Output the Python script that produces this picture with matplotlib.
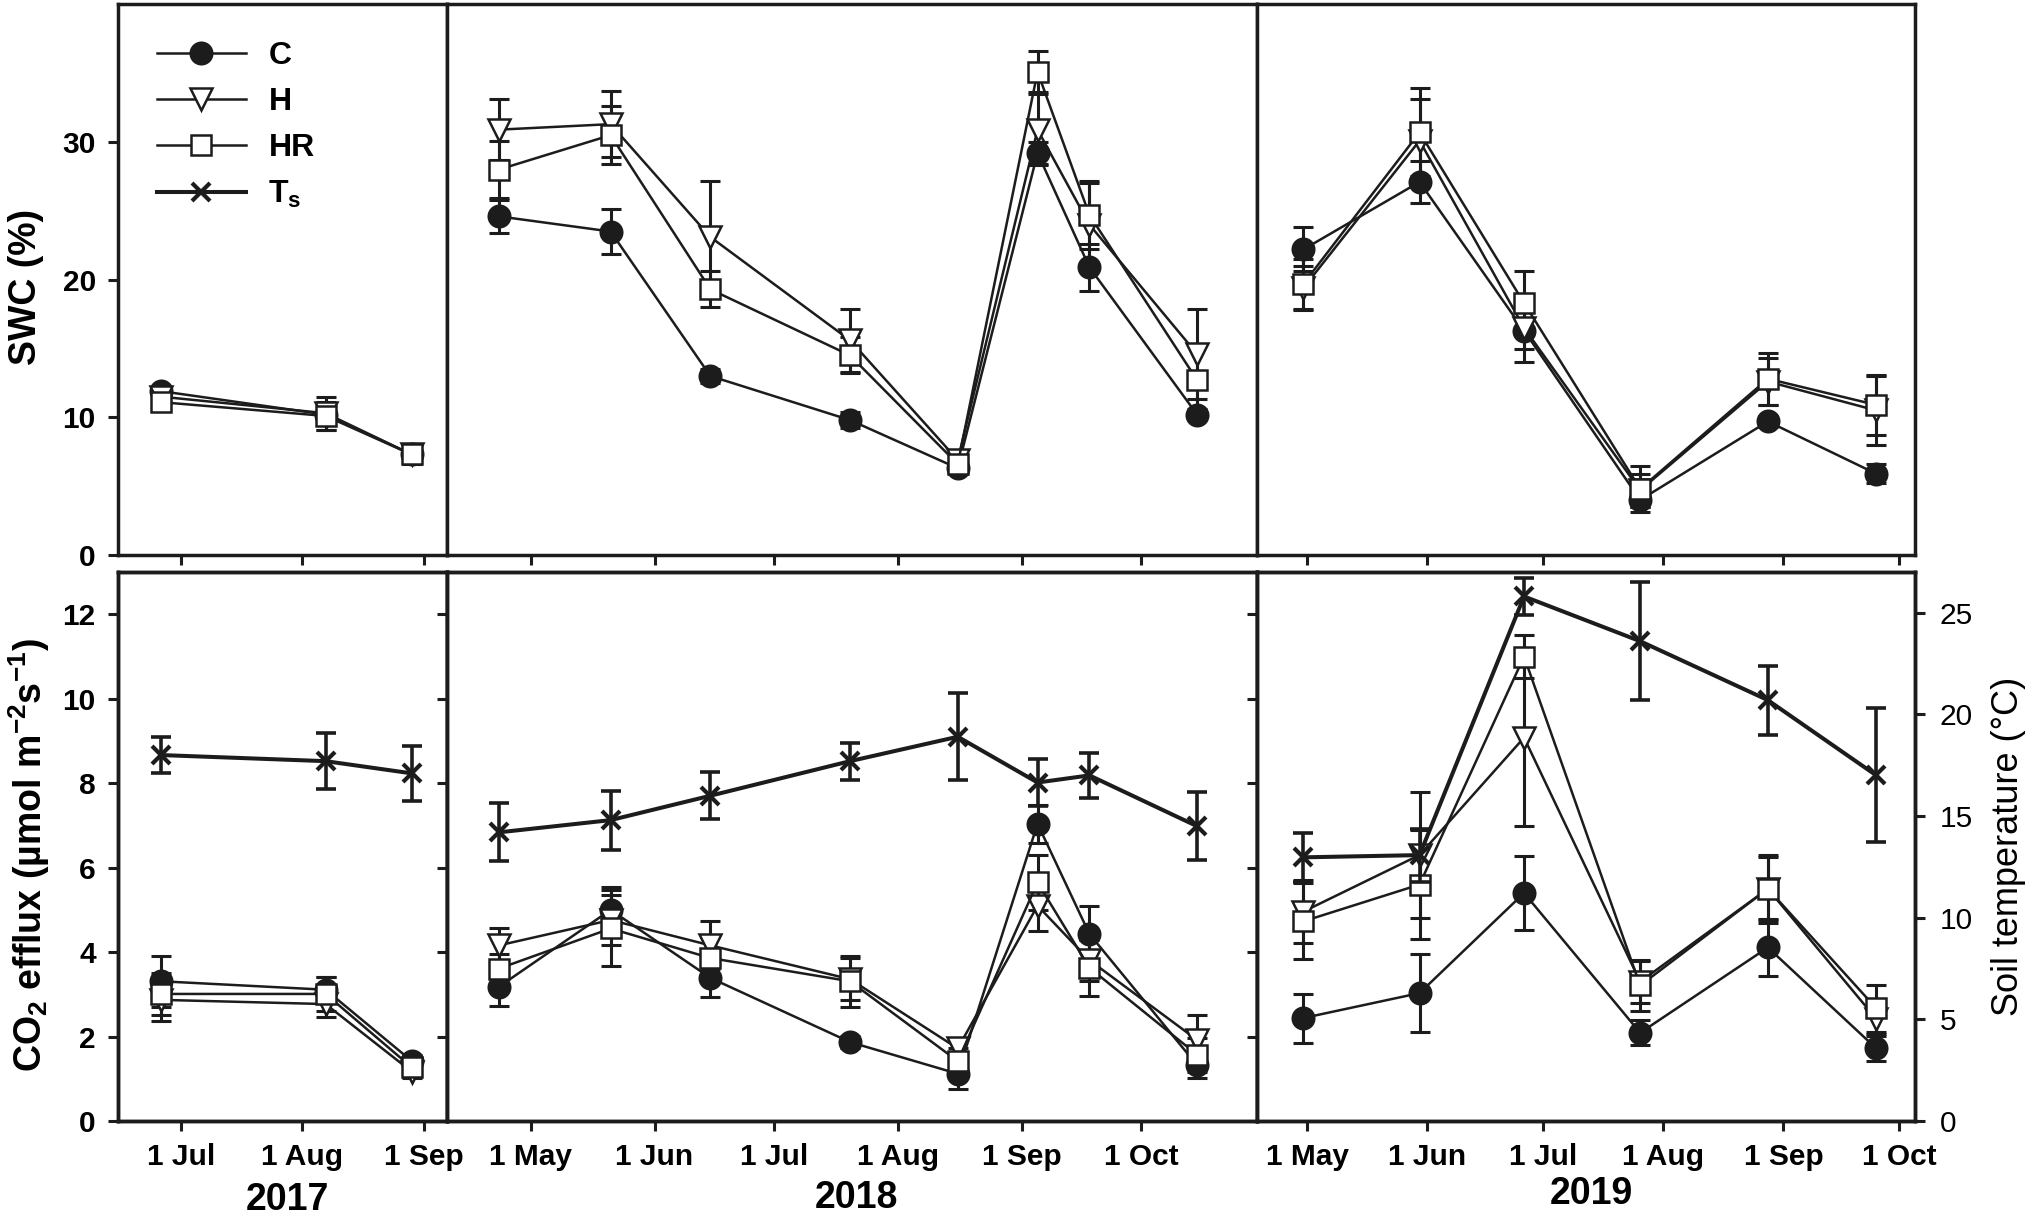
import numpy as np
import pandas as pd
import matplotlib
matplotlib.use('Agg')
import matplotlib.pyplot as plt
import matplotlib.dates as mdates
from matplotlib.lines import Line2D
from matplotlib.ticker import FuncFormatter, MultipleLocator

plt.rcParams['font.family'] = ['Liberation Sans', 'DejaVu Sans']
plt.rcParams['mathtext.fontset'] = 'custom'
plt.rcParams['mathtext.rm'] = 'Liberation Sans'
plt.rcParams['mathtext.bf'] = 'Liberation Sans:bold'
plt.rcParams['mathtext.default'] = 'regular'

# sampling dates (2017, 2018, 2019)
dates = pd.to_datetime(['2017-06-26', '2017-08-07', '2017-08-29',
                        '2018-04-23', '2018-05-21', '2018-06-15', '2018-07-20',
                        '2018-08-16', '2018-09-05', '2018-09-18', '2018-10-15',
                        '2019-04-30', '2019-05-30', '2019-06-26', '2019-07-26',
                        '2019-08-28', '2019-09-25'])

# soil water content (%)
swc_c = [11.9, 10.2, 7.3, 24.6, 23.5, 13.0, 9.8, 6.3, 29.2, 20.9, 10.2,
         22.2, 27.1, 16.3, 4.0, 9.7, 5.9]
swc_c_err = [0.4, 0.5, 0.5, 1.2, 1.6, 0.5, 0.6, 0.4, 0.8, 1.7, 0.4,
             1.6, 1.5, 2.3, 0.5, 0.4, 0.7]
swc_h = [11.5, 10.3, 7.3, 30.9, 31.3, 23.1, 15.6, 6.9, 30.9, 24.0, 14.6,
         19.4, 30.1, 16.5, 4.7, 12.6, 10.5]
swc_h_err = [0.4, 1.2, 0.6, 2.2, 2.4, 4.1, 2.3, 0.5, 2.6, 3.0, 3.3,
             1.6, 3.0, 1.5, 1.2, 1.7, 2.5]
swc_hr = [11.1, 10.1, 7.3, 28.0, 30.5, 19.3, 14.5, 6.6, 35.1, 24.7, 12.7,
          19.7, 30.7, 18.3, 4.8, 12.8, 10.9]
swc_hr_err = [0.4, 1.0, 0.7, 2.1, 2.1, 1.3, 1.3, 0.4, 1.5, 2.5, 2.6,
              1.8, 3.2, 2.3, 1.7, 1.9, 2.2]

# CO2 efflux (umol m-2 s-1)
co2_c = [3.31, 3.11, 1.42, 3.18, 5.0, 3.39, 1.87, 1.12, 7.04, 4.43, 1.32,
         2.44, 3.03, 5.4, 2.09, 4.11, 1.72]
co2_c_err = [0.6, 0.3, 0.15, 0.45, 0.55, 0.45, 0.15, 0.35, 0.45, 0.67, 0.3,
             0.58, 0.93, 0.87, 0.3, 0.67, 0.3]
co2_h = [2.87, 2.77, 1.17, 4.16, 4.76, 4.16, 3.36, 1.72, 5.1, 3.81, 1.92,
         4.96, 6.3, 9.08, 3.3, 5.5, 2.42]
co2_h_err = [0.5, 0.3, 0.15, 0.4, 0.6, 0.57, 0.5, 0.2, 0.6, 0.5, 0.6,
             0.75, 1.5, 2.1, 0.5, 0.75, 0.35]
co2_hr = [3.01, 3.01, 1.27, 3.61, 4.56, 3.86, 3.31, 1.42, 5.65, 3.63, 1.57,
          4.73, 5.6, 11.0, 3.21, 5.5, 2.67]
co2_hr_err = [0.5, 0.4, 0.15, 0.35, 0.9, 0.5, 0.6, 0.3, 0.65, 0.66, 0.4,
              0.9, 1.3, 0.5, 0.6, 0.8, 0.55]

# soil temperature (deg C)
ts = [18.0, 17.7, 17.1, 14.2, 14.8, 16.0, 17.7, 18.9, 16.65, 17.0, 14.5,
      12.97, 13.08, 25.8, 23.6, 20.7, 17.0]
ts_err = [0.9, 1.37, 1.35, 1.43, 1.45, 1.16, 0.91, 2.14, 1.14, 1.1, 1.67,
          1.2, 1.3, 0.9, 2.9, 1.7, 3.3]

years = [2017, 2018, 2019]
xlims = [('2017-06-15', '2017-09-07'), ('2018-04-10', '2018-10-30'),
         ('2019-04-18', '2019-10-05')]

K = '#1c1c1c'
xedges = [0.0581, 0.2200, 0.6186, 0.9424]
top_b, top_h = 0.5451, 0.9964 - 0.5451
bot_b, bot_h = 0.0811, 0.5311 - 0.0811

styles = {
    'C': dict(marker='o', ms=15.5, mfc=K),
    'H': dict(marker='v', ms=16, mfc='white'),
    'HR': dict(marker='s', ms=14, mfc='white'),
}


def draw(ax, x, y, e, st, lw=1.8):
    ax.errorbar(x, y, yerr=e, fmt='none', ecolor=K, elinewidth=2.2,
                capsize=7.5, capthick=2.2, zorder=2)
    ax.plot(x, y, color=K, lw=lw, mec=K, mew=1.8, zorder=3, **st)


def style_axes(ax):
    for s in ax.spines.values():
        s.set_linewidth(2.5)
        s.set_color(K)
    ax.tick_params(direction='out', length=7, width=2.2, color=K,
                   labelsize=21.5, pad=9)


mfmt = FuncFormatter(lambda v, p: '1 ' + mdates.num2date(v).strftime('%b'))

fig = plt.figure(figsize=(20.32, 12.2), dpi=100)

for i, yr in enumerate(years):
    sel = dates.year == yr
    x = dates[sel]
    w = xedges[i + 1] - xedges[i]
    ax_t = fig.add_axes([xedges[i], top_b, w, top_h])
    ax_b = fig.add_axes([xedges[i], bot_b, w, bot_h])

    for ax in (ax_t, ax_b):
        style_axes(ax)
        ax.set_xlim(pd.Timestamp(xlims[i][0]), pd.Timestamp(xlims[i][1]))
        ax.xaxis.set_major_locator(mdates.MonthLocator())
        ax.xaxis.set_major_formatter(mfmt)
        for lab in ax.get_xticklabels() + ax.get_yticklabels():
            lab.set_fontweight('bold')

    ax_t.tick_params(labelbottom=False)
    ax_t.set_ylim(0, 40)
    ax_t.yaxis.set_major_locator(MultipleLocator(10))
    ax_b.set_ylim(0, 13)
    ax_b.yaxis.set_major_locator(MultipleLocator(2))
    if i > 0:
        ax_t.tick_params(left=False, labelleft=False)
        ax_b.tick_params(left=False, labelleft=False)
    else:
        ax_t.set_yticks([0, 10, 20, 30])

    draw(ax_t, x, np.array(swc_c)[sel], np.array(swc_c_err)[sel], styles['C'])
    draw(ax_t, x, np.array(swc_h)[sel], np.array(swc_h_err)[sel], styles['H'])
    draw(ax_t, x, np.array(swc_hr)[sel], np.array(swc_hr_err)[sel], styles['HR'])

    draw(ax_b, x, np.array(co2_c)[sel], np.array(co2_c_err)[sel], styles['C'])
    draw(ax_b, x, np.array(co2_h)[sel], np.array(co2_h_err)[sel], styles['H'])
    draw(ax_b, x, np.array(co2_hr)[sel], np.array(co2_hr_err)[sel], styles['HR'])

    tw = ax_b.twinx()
    style_axes(tw)
    tw.set_ylim(0, 27)
    tw.yaxis.set_major_locator(MultipleLocator(5))
    tw.errorbar(x, np.array(ts)[sel], yerr=np.array(ts_err)[sel], fmt='none',
                ecolor=K, elinewidth=2.6, capsize=7.5, capthick=2.6, zorder=2)
    tw.plot(x, np.array(ts)[sel], color=K, lw=2.9, marker='x', ms=13,
            mew=3, zorder=3)
    if i < 2:
        tw.tick_params(right=False, labelright=False)
    else:
        tw.tick_params(pad=11)

    if i == 0:
        handles = [
            Line2D([], [], color=K, lw=1.8, mec=K, mew=1.8, **styles['C']),
            Line2D([], [], color=K, lw=1.8, mec=K, mew=1.8, **styles['H']),
            Line2D([], [], color=K, lw=1.8, mec=K, mew=1.8, **styles['HR']),
            Line2D([], [], color=K, lw=2.9, marker='x', ms=13, mew=3),
        ]
        ax_t.legend(handles, ['C', 'H', 'HR', 'T$_s$'], loc='upper left',
                    bbox_to_anchor=(0.03, 0.985), frameon=False,
                    handlelength=2.8, handletextpad=0.7, labelspacing=0.5,
                    prop={'size': 23, 'weight': 'bold'})

fig.text(0.0128, 0.765, 'SWC (%)', rotation=90, ha='center', va='center',
         fontsize=27, fontweight='bold')
fig.text(0.0143, 0.299, 'CO$_2$ efflux (µmol m$^{-2}$s$^{-1}$)', rotation=90,
         ha='center', va='center', fontsize=27, fontweight='bold')
fig.text(0.9885, 0.3066, 'Soil temperature (°C)', rotation=90, ha='center',
         va='center', fontsize=26)

for xpos, ypos, yr in [(0.1417, 0.016, '2017'), (0.4213, 0.018, '2018'),
                       (0.783, 0.021, '2019')]:
    fig.text(xpos, ypos, yr, ha='center', va='center', fontsize=27,
             fontweight='bold')

fig.savefig('out.png', dpi=100)
